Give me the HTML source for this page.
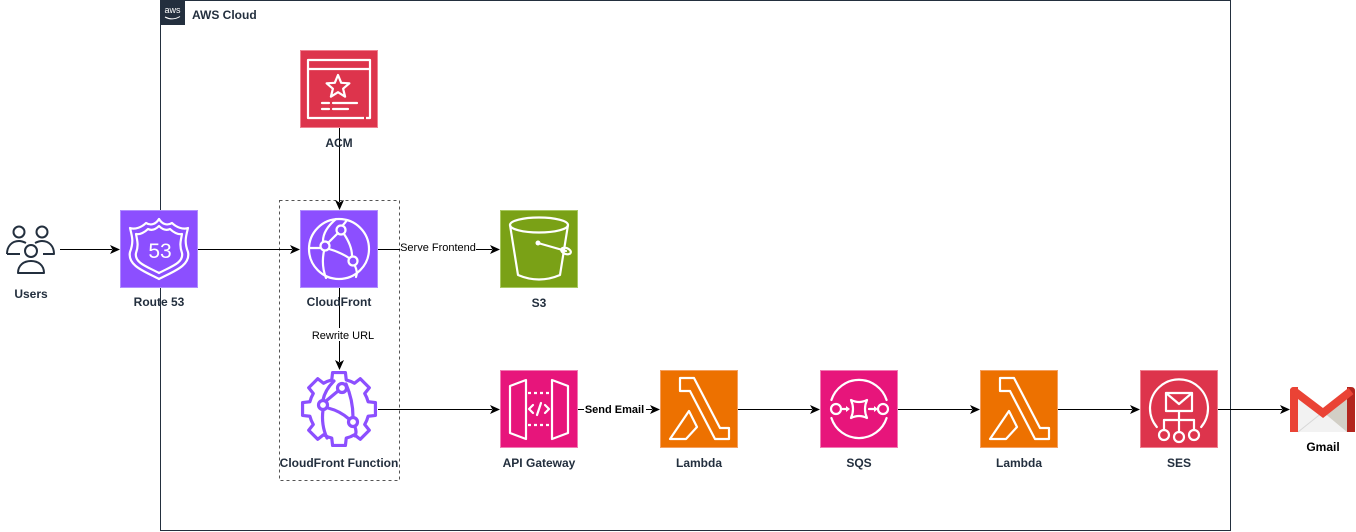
<!DOCTYPE html>
<html>
<head>
<meta charset="utf-8">
<style>
html,body{margin:0;padding:0;background:#fff;}
svg{display:block;}
text{font-family:"Liberation Sans",Arial,sans-serif;}
.nl{font-size:12px;font-weight:bold;fill:#232F3E;text-anchor:middle;}
.el{font-size:11px;fill:#000;text-anchor:middle;}
.w{fill:none;stroke:#fff;stroke-width:2.2;stroke-linejoin:round;stroke-linecap:round;}
</style>
</head>
<body>
<svg width="1356" height="532" viewBox="0 0 1356 532" xmlns="http://www.w3.org/2000/svg">
<rect x="0" y="0" width="1356" height="532" fill="#fff"/>

<!-- AWS Cloud group -->
<rect x="160.5" y="0.5" width="1070" height="530" fill="none" stroke="#232F3E" stroke-width="1"/>
<rect x="160" y="0" width="25" height="25" fill="#232F3E"/>
<text x="172.5" y="13" font-size="9" fill="#fff" text-anchor="middle" style="font-family:'Liberation Sans',sans-serif">aws</text>
<path d="M165,17 Q172.5,21 180,16.5" fill="none" stroke="#fff" stroke-width="1"/>
<text x="192" y="19" font-size="12" font-weight="bold" fill="#232F3E">AWS Cloud</text>

<!-- dashed group -->
<rect x="279.5" y="200.5" width="120" height="280" fill="none" stroke="#545454" stroke-width="1" stroke-dasharray="3,3"/>

<!-- Connectors -->
<g stroke="#000" stroke-width="1" fill="none">
  <line x1="60" y1="249.5" x2="112" y2="249.5"/>
  <line x1="198" y1="249.5" x2="292" y2="249.5"/>
  <line x1="339.5" y1="128" x2="339.5" y2="202"/>
  <line x1="378" y1="249.5" x2="492" y2="249.5"/>
  <line x1="339.5" y1="288" x2="339.5" y2="362"/>
  <line x1="378" y1="409.5" x2="492" y2="409.5"/>
  <line x1="578" y1="409.5" x2="652" y2="409.5"/>
  <line x1="738" y1="409.5" x2="812" y2="409.5"/>
  <line x1="898" y1="409.5" x2="972" y2="409.5"/>
  <line x1="1058" y1="409.5" x2="1132" y2="409.5"/>
  <line x1="1218" y1="409.5" x2="1282" y2="409.5"/>
</g>
<g fill="#000">
  <path d="M120,249.5 L110,245 L112.5,249.5 L110,254 Z"/>
  <path d="M300,249.5 L290,245 L292.5,249.5 L290,254 Z"/>
  <path d="M339.5,210 L335,200 L339.5,202.5 L344,200 Z"/>
  <path d="M500,249.5 L490,245 L492.5,249.5 L490,254 Z"/>
  <path d="M339.5,370 L335,360 L339.5,362.5 L344,360 Z"/>
  <path d="M500,409.5 L490,405 L492.5,409.5 L490,414 Z"/>
  <path d="M660,409.5 L650,405 L652.5,409.5 L650,414 Z"/>
  <path d="M820,409.5 L810,405 L812.5,409.5 L810,414 Z"/>
  <path d="M980,409.5 L970,405 L972.5,409.5 L970,414 Z"/>
  <path d="M1140,409.5 L1130,405 L1132.5,409.5 L1130,414 Z"/>
  <path d="M1290,409.5 L1280,405 L1282.5,409.5 L1280,414 Z"/>
</g>

<!-- edge labels -->
<rect x="400" y="241" width="76" height="13" fill="#fff"/>
<text class="el" x="438" y="251">Serve Frontend</text>
<rect x="311" y="328" width="64" height="13" fill="#fff"/>
<text class="el" x="343" y="339">Rewrite URL</text>
<rect x="584" y="402" width="62" height="14" fill="#fff"/>
<text class="el" x="614.5" y="413" font-weight="bold">Send Email</text>

<!-- Users -->
<g fill="#fff" stroke="#232F3E" stroke-width="2" stroke-linejoin="round">
  <path d="M7,254 C7,246 12,241 19,241 C22,241 24,242 26,243" fill="none"/>
  <line x1="7" y1="254" x2="20" y2="254"/>
  <path d="M35,243 C37,242 39,241 42,241 C49,241 54,246 54,254 L43,254" fill="none"/>
  <circle cx="19" cy="232" r="5.5"/>
  <circle cx="42" cy="232" r="5.5"/>
  <path d="M18,273 C18,265 24,261 31,261 C38,261 44,265 44,273 Z"/>
  <circle cx="31" cy="251" r="6"/>
</g>
<text class="nl" x="31" y="298">Users</text>

<!-- Route 53 -->
<g transform="translate(120,210)">
  <rect x="0.5" y="0.5" width="77" height="77" fill="#8C4FFF" stroke="#B08CFF" stroke-width="1"/>
  <path class="w" d="M10,18 C15,20 22,17 26,13 C31,16 36,14 39,9 C42,14 47,16 52,13 C56,17 63,20 68,18 C66,26 64,32 68,42 C71,56 52,62 39,69 C26,62 7,56 10,42 C14,32 12,26 10,18 Z"/>
  <path class="w" d="M16,24 C20,25 25,22 28,19 C32,21 36,19 39,16 C42,19 46,21 50,19 C53,22 58,25 62,24 C61,30 59,35 62,43 C64,53 50,57 39,63 C28,57 14,53 16,43 C19,35 17,30 16,24 Z"/>
  <text x="40" y="48" font-size="21" fill="#fff" text-anchor="middle">53</text>
</g>
<text class="nl" x="159" y="306">Route 53</text>
<line x1="160.5" y1="288" x2="160.5" y2="310" stroke="#232F3E" stroke-width="1"/>

<!-- ACM -->
<g transform="translate(300,50)">
  <rect x="0.5" y="0.5" width="77" height="77" fill="#DD344C" stroke="#F08090" stroke-width="1"/>
  <path class="w" d="M64,68 H8 V10 H70 V68 H66" style="stroke-linecap:butt"/>
  <line class="w" x1="8" y1="19" x2="70" y2="19"/>
  <polygon class="w" points="38,25 41.2,32.8 49.4,33.3 43.1,38.7 45.1,46.7 38,42.2 30.9,46.7 32.9,38.7 26.6,33.3 34.8,32.8"/>
  <line class="w" x1="22" y1="53" x2="29" y2="53"/>
  <line class="w" x1="33" y1="53" x2="57" y2="53"/>
  <line class="w" x1="22" y1="59" x2="29" y2="59"/>
  <line class="w" x1="33" y1="59" x2="48" y2="59"/>
</g>
<text class="nl" x="339" y="147">ACM</text>

<!-- CloudFront -->
<g transform="translate(300,210)">
  <rect x="0.5" y="0.5" width="77" height="77" fill="#8C4FFF" stroke="#B08CFF" stroke-width="1"/>
  <circle class="w" cx="39" cy="39" r="30"/>
  <path class="w" d="M36,9 Q23,20 23,31"/>
  <path class="w" d="M24,41 Q21,55 26,68"/>
  <path class="w" d="M47,10 Q45,13 43,15"/>
  <path class="w" d="M44,24 Q52,36 52,46"/>
  <path class="w" d="M55,56 Q58,62 56,67"/>
  <path class="w" d="M28,33 L38,23"/>
  <path class="w" d="M29,39 Q40,42 49,48"/>
  <path class="w" d="M9,38 H20"/>
  <circle class="w" cx="41" cy="20" r="4.5"/>
  <circle class="w" cx="25" cy="36" r="4.5"/>
  <circle class="w" cx="53" cy="51" r="4.5"/>
</g>
<text class="nl" x="339" y="306">CloudFront</text>
<line x1="339.5" y1="288" x2="339.5" y2="300" stroke="#000" stroke-width="1"/>

<!-- S3 -->
<g transform="translate(500,210)">
  <rect x="0.5" y="0.5" width="77" height="77" fill="#7AA116" stroke="#A8C860" stroke-width="1"/>
  <ellipse class="w" cx="39" cy="15" rx="29" ry="7.5"/>
  <path class="w" d="M10,15 L18,65 Q39,74 60,65 L68,15"/>
  <circle cx="38" cy="33" r="2.5" fill="#fff"/>
  <line class="w" x1="38" y1="33" x2="66" y2="41"/>
  <ellipse class="w" cx="66" cy="41" rx="5" ry="3" transform="rotate(20 66 41)"/>
</g>
<text class="nl" x="539" y="307">S3</text>

<!-- CloudFront Function -->
<g transform="translate(300,370)" fill="none" stroke="#8C4FFF" stroke-width="3.2" stroke-linejoin="round" stroke-linecap="round">
  <path fill="#fff" d="M68.11,31.74 L75.44,32.58 L75.44,45.42 L68.11,46.26 A30 30 0 0 1 64.72,54.45 L69.31,60.22 L60.22,69.31 L54.45,64.72 A30 30 0 0 1 46.26,68.11 L45.42,75.44 L32.58,75.44 L31.74,68.11 A30 30 0 0 1 23.55,64.72 L17.78,69.31 L8.69,60.22 L13.28,54.45 A30 30 0 0 1 9.89,46.26 L2.56,45.42 L2.56,32.58 L9.89,31.74 A30 30 0 0 1 13.28,23.55 L8.69,17.78 L17.78,8.69 L23.55,13.28 A30 30 0 0 1 31.74,9.89 L32.58,2.56 L45.42,2.56 L46.26,9.89 A30 30 0 0 1 54.45,13.28 L60.22,8.69 L69.31,17.78 L64.72,23.55 A30 30 0 0 1 68.11,31.74 Z"/>
  <path d="M34,11 Q25,20 23,30"/>
  <path d="M23,40 Q21,55 27,68"/>
  <path d="M46,14 Q53,30 53,47"/>
  <path d="M55,57 Q57,62 55,66"/>
  <path d="M26,31 L38,21"/>
  <path d="M28,38 Q40,41 49,49"/>
  <circle cx="42" cy="18" r="4.5" fill="#fff"/>
  <circle cx="23" cy="35" r="4.5" fill="#fff"/>
  <circle cx="53" cy="52" r="4.5" fill="#fff"/>
</g>
<text class="nl" x="339" y="467">CloudFront Function</text>

<!-- API Gateway -->
<g transform="translate(500,370)">
  <rect x="0.5" y="0.5" width="77" height="77" fill="#E7157B" stroke="#F27AB3" stroke-width="1"/>
  <polygon class="w" points="10,16 26,10 26,69 10,63"/>
  <polygon class="w" points="52,10 68,16 68,63 52,69"/>
  <line class="w" x1="28" y1="23" x2="50" y2="23" stroke-dasharray="3,3" style="stroke-linecap:butt"/>
  <line class="w" x1="28" y1="55" x2="50" y2="55" stroke-dasharray="3,3" style="stroke-linecap:butt"/>
  <path class="w" d="M33,35 L29,39 L33,43"/>
  <path class="w" d="M45,35 L49,39 L45,43"/>
  <path class="w" d="M41,33 L37,45"/>
</g>
<text class="nl" x="539" y="467">API Gateway</text>

<!-- Lambda 1 -->
<g transform="translate(660,370)">
  <rect x="0.5" y="0.5" width="77" height="77" fill="#ED7100" stroke="#F5A060" stroke-width="1"/>
  <path class="w" d="M20,8 H34 L60,58 H69 V69 H55 L30,21 H20 Z"/>
  <path class="w" d="M29,41 L37,57 L26,69 H10 Z"/>
</g>
<text class="nl" x="699" y="467">Lambda</text>

<!-- SQS -->
<g transform="translate(820,370)">
  <rect x="0.5" y="0.5" width="77" height="77" fill="#E7157B" stroke="#F27AB3" stroke-width="1"/>
  <path class="w" d="M11.4,30 A29,29 0 0 1 66.6,30"/>
  <path class="w" d="M11.4,48 A29,29 0 0 0 66.6,48"/>
  <circle class="w" cx="16" cy="39" r="5"/>
  <circle class="w" cx="63" cy="39" r="5"/>
  <line class="w" x1="21" y1="39" x2="27" y2="39"/>
  <path d="M30,39 L26,36 L26,42 Z" fill="#fff"/>
  <line class="w" x1="49" y1="39" x2="55" y2="39"/>
  <path d="M58,39 L54,36 L54,42 Z" fill="#fff"/>
  <path class="w" d="M31,30 Q39,34 47,30 Q43,39 47,48 Q39,44 31,48 Q35,39 31,30 Z"/>
</g>
<text class="nl" x="859" y="467">SQS</text>

<!-- Lambda 2 -->
<g transform="translate(980,370)">
  <rect x="0.5" y="0.5" width="77" height="77" fill="#ED7100" stroke="#F5A060" stroke-width="1"/>
  <path class="w" d="M20,8 H34 L60,58 H69 V69 H55 L30,21 H20 Z"/>
  <path class="w" d="M29,41 L37,57 L26,69 H10 Z"/>
</g>
<text class="nl" x="1019" y="467">Lambda</text>

<!-- SES -->
<g transform="translate(1140,370)">
  <rect x="0.5" y="0.5" width="77" height="77" fill="#DD344C" stroke="#F08090" stroke-width="1"/>
  <path class="w" d="M16.8,57 A29,29 0 1 1 61.2,57"/>
  <rect class="w" x="26" y="23" width="26" height="18"/>
  <path class="w" d="M26,23 L39,34 L52,23"/>
  <line class="w" x1="39" y1="41" x2="39" y2="50"/>
  <line class="w" x1="24" y1="50" x2="54" y2="50"/>
  <line class="w" x1="24" y1="50" x2="24" y2="60"/>
  <line class="w" x1="39" y1="50" x2="39" y2="62"/>
  <line class="w" x1="54" y1="50" x2="54" y2="60"/>
  <circle class="w" cx="24" cy="65" r="5"/>
  <circle class="w" cx="39" cy="67" r="5"/>
  <circle class="w" cx="54" cy="65" r="5"/>
</g>
<text class="nl" x="1179" y="467">SES</text>

<!-- Gmail -->
<g>
  <polygon points="1298,393 1323,412 1347,393 1347,432 1298,432" fill="#F2F2F2"/>
  <polygon points="1323,412 1347,395 1347,432" fill="#D2CFC6"/>
  <line x1="1298" y1="432" x2="1323" y2="412" stroke="#D8D8D8" stroke-width="1"/>
  <path d="M1290,391 Q1290,387 1294,387 L1298,387 L1298,432 L1290,432 Z" fill="#EA4335"/>
  <path d="M1347,387 L1351,387 Q1355,387 1355,391 L1355,432 L1347,432 Z" fill="#B3261E"/>
  <path d="M1294,391 L1323,413 L1351,391" fill="none" stroke="#EA4335" stroke-width="8" stroke-linejoin="miter"/>
  <path d="M1290,391 Q1290,387 1294,387 L1298,387 L1298,400 L1290,394 Z" fill="#EA4335"/>
</g>
<text x="1323" y="451" font-size="12" font-weight="bold" fill="#000" text-anchor="middle">Gmail</text>
</svg>
</body>
</html>
